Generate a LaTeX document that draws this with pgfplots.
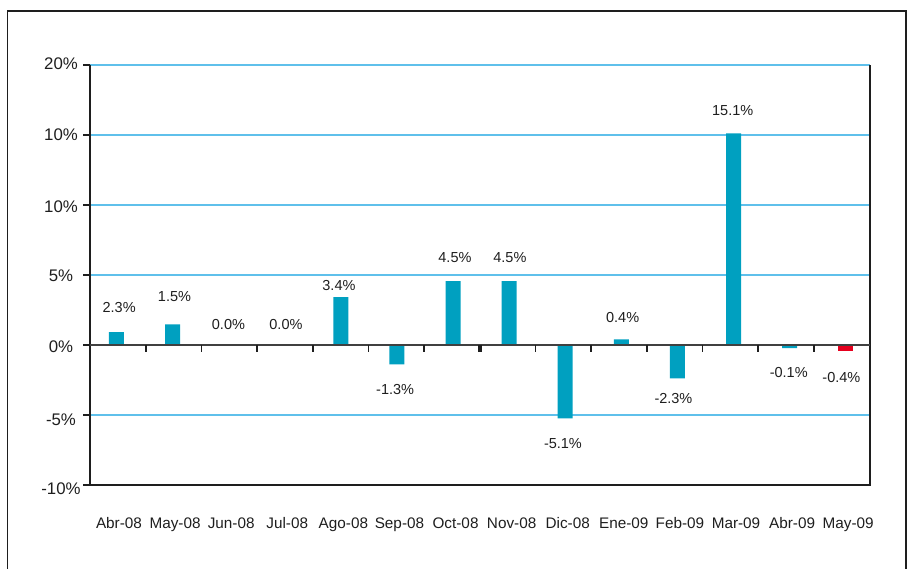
\documentclass[border=0pt]{standalone}
\usepackage{pgfplots}
\pgfplotsset{compat=1.18}
\usepackage{fontspec}
\setmainfont{Liberation Sans}
\definecolor{barteal}{RGB}{0,160,192}
\definecolor{barred}{RGB}{230,0,30}
\definecolor{gridblue}{RGB}{95,192,235}
\definecolor{txt}{RGB}{30,30,30}
\begin{document}
\begin{tikzpicture}[x=1pt,y=1pt]
\path[use as bounding box] (0,0) rectangle (913,568);
\draw[line width=1.5pt, txt] (7.5,-30) rectangle (906,557);
\begin{axis}[
  at={(90pt,83pt)}, anchor=south west,
  scale only axis, width=780pt, height=420pt,
  xmin=-0.472, xmax=13.433, ymin=-10, ymax=20,
  clip=false,
  axis line style={draw=none},
  major tick length=0pt,
  ytick={-10,-5,0,5,10,15,20},
  yticklabels={\raisebox{-9pt}{-10\%},\raisebox{-10pt}{-5\%},\raisebox{-7.3pt}{0\%},\raisebox{-6.7pt}{5\%},\raisebox{-7.3pt}{10\%},\raisebox{-6pt}{10\%},\raisebox{-4.7pt}{20\%}},
  yticklabel style={anchor=base, xshift=-29pt, inner sep=0pt, font=\fontsize{16.8}{19}\selectfont, text=txt},
  xtick={0,...,13},
  xticklabels={Abr-08,May-08,Jun-08,Jul-08,Ago-08,Sep-08,Oct-08,Nov-08,Dic-08,Ene-09,Feb-09,Mar-09,Abr-09,May-09},
  xticklabel style={anchor=base, yshift=-43.5pt, xshift=2.5pt, inner sep=0pt, font=\fontsize{15.3}{18}\selectfont, text=txt},
  /pgf/number format/assume math mode=true,
]
% horizontal gridlines (light blue)
\draw[gridblue, line width=2pt] (axis cs:-0.472,-5) -- (axis cs:13.433,-5);
\draw[gridblue, line width=2pt] (axis cs:-0.472,5) -- (axis cs:13.433,5);
\draw[gridblue, line width=2pt] (axis cs:-0.472,10) -- (axis cs:13.433,10);
\draw[gridblue, line width=2pt] (axis cs:-0.472,15) -- (axis cs:13.433,15);
\draw[gridblue, line width=2pt] (axis cs:-0.472,20) -- (axis cs:13.433,20);
\addplot[ybar, bar shift=0pt, bar width=15pt, fill=barteal, draw=none] coordinates {
  (0,0.92) (1,1.47) (2,0) (3,0) (4,3.42) (5,-1.38) (6,4.57) (7,4.57)
  (8,-5.25) (9,0.40) (10,-2.38) (11,15.12) (12,-0.22)
};
\addplot[ybar, bar shift=0pt, bar width=15pt, fill=barred, draw=none] coordinates {
  (13,-0.45)
};
% frame of plot area (top edge is the blue 20% gridline)
\draw[txt, line width=2pt] (rel axis cs:0,1) -- (rel axis cs:0,0) -- (rel axis cs:1,0) -- (rel axis cs:1,1);
% zero line
\draw[black!75, line width=1.6pt] (axis cs:-0.472,0) -- (axis cs:13.433,0);
% ticks on the zero line
\pgfplotsinvokeforeach{0.526,1.518,2.510,3.502,4.494,5.486,6.46,6.50,7.470,8.462,9.454,10.446,11.438,12.430}{
  \draw[txt, line width=1.6pt] (axis cs:#1,0) -- (axis cs:#1,-0.5);
}
\pgfplotsinvokeforeach{-10,-5,0,5,10,15,20}{
  \draw[txt, line width=2pt] (axis cs:-0.472,#1) -- ++(-7pt,0pt);
}
% data labels
\begin{scope}[every node/.style={font=\fontsize{14.5}{17}\selectfont, text=txt, anchor=center, inner sep=0pt}]
\node at (axis cs:0.048,2.70) {2.3\%};
\node at (axis cs:1.034,3.48) {1.5\%};
\node at (axis cs:1.996,1.46) {0.0\%};
\node at (axis cs:3.021,1.46) {0.0\%};
\node at (axis cs:3.966,4.26) {3.4\%};
\node at (axis cs:4.968,-3.16) {-1.3\%};
\node at (axis cs:6.034,6.25) {4.5\%};
\node at (axis cs:7.014,6.25) {4.5\%};
\node at (axis cs:7.959,-7.06) {-5.1\%};
\node at (axis cs:9.023,1.99) {0.4\%};
\node at (axis cs:9.929,-3.81) {-2.3\%};
\node at (axis cs:10.986,16.75) {15.1\%};
\node at (axis cs:11.984,-2.00) {-0.1\%};
\node at (axis cs:12.923,-2.32) {-0.4\%};
\end{scope}
\end{axis}
\end{tikzpicture}
\end{document}
